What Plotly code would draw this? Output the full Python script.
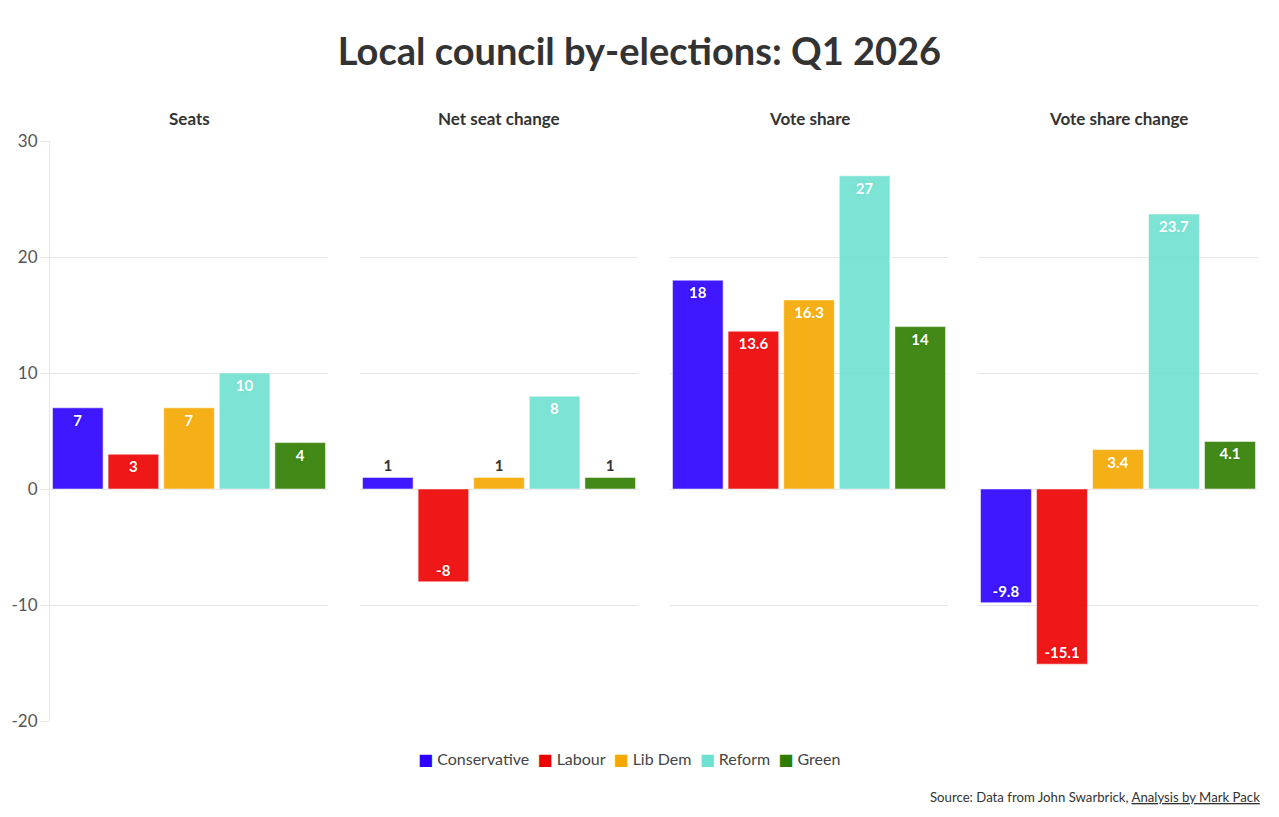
import plotly.graph_objects as go

parties = ["Conservative", "Labour", "Lib Dem", "Reform", "Green"]
colors = ["#2b00ff", "#ee0000", "#f5a800", "#70e0d0", "#2f7d00"]
panel_titles = ["Seats", "Net seat change", "Vote share", "Vote share change"]
seats = [7, 3, 7, 10, 4]
net_seat_change = [1, -8, 1, 8, 1]
vote_share = [18, 13.6, 16.3, 27, 14]
vote_share_change = [-9.8, -15.1, 3.4, 23.7, 4.1]
panels = [seats, net_seat_change, vote_share, vote_share_change]
y_ticks = [-20, -10, 0, 10, 20, 30]
y_tick_labels = ["-20", "-10", "0", "10", "20", "30"]

FONT = "'Source Sans Pro', Lato, sans-serif"
W, H = 1279, 817
x_px = [(50, 328), (360, 638), (670, 948), (978, 1258)]
y_dom = [1 - 721 / H, 1 - 141 / H]

fig = go.Figure()
layout = {}
for p, vals in enumerate(panels):
    ax = "" if p == 0 else str(p + 1)
    for i, party in enumerate(parties):
        fig.add_trace(go.Bar(
            x=[party], y=[vals[i]], name=party,
            xaxis="x" + ax, yaxis="y" + ax,
            legendgroup=party, showlegend=False,
            marker=dict(color=colors[i], opacity=0.9,
                        line=dict(color="rgba(255,255,255,0.5)", width=1)),
            text=[vals[i]], texttemplate="%{text}",
            textposition="auto", constraintext="none",
            insidetextanchor="end",
            insidetextfont=dict(color="white", size=15, family=FONT, weight="bold",
                                shadow="0px 0px 3px " + colors[i]),
            outsidetextfont=dict(color="#333333", size=15, family=FONT, weight="bold"),
            hoverinfo="x+y",
        ))
    x0, x1 = x_px[p]
    layout["xaxis" + ax] = dict(domain=[x0 / W, x1 / W], anchor="y" + ax,
                                showticklabels=False, showgrid=False,
                                zeroline=False, showline=False, ticks="")
    layout["yaxis" + ax] = dict(domain=y_dom, anchor="x" + ax, range=[-20, 30],
                                tickvals=y_ticks, ticktext=y_tick_labels,
                                showticklabels=(p == 0), automargin=False,
                                gridcolor="#e6e6e6", gridwidth=1,
                                zeroline=True, zerolinecolor="#e6e6e6", zerolinewidth=1,
                                showline=(p == 0), linecolor="#e6e6e6", linewidth=1,
                                ticks="outside" if p == 0 else "", ticklen=8,
                                tickcolor="#e6e6e6",
                                tickfont=dict(size=17, color="#555555", family=FONT))
    if p > 0:
        layout["yaxis" + ax]["matches"] = "y"

fig.update_layout(**layout)

annotations = []
for p, t in enumerate(panel_titles):
    x0, x1 = x_px[p]
    annotations.append(dict(text="<b>" + t + "</b>", x=(x0 + x1) / 2 / W, y=1 - 118 / H,
                            xref="paper", yref="paper", showarrow=False,
                            xanchor="center", yanchor="middle",
                            font=dict(size=17, color="#333333", family=FONT)))

# legend row built from the party names and colours
legend_text = "  ".join(
    '<span style="color:%s;font-family:DejaVu Sans">&#9632;</span> %s' % (c, n)
    for n, c in zip(parties, colors))
annotations.append(dict(text=legend_text, x=629 / W, y=1 - 759 / H,
                        xref="paper", yref="paper", showarrow=False,
                        xanchor="center", yanchor="middle",
                        font=dict(size=16, color="#444444", family=FONT)))

annotations.append(dict(text="Source: Data from John Swarbrick, <u>Analysis by Mark Pack</u>",
                        x=1262 / W, y=1 - 797 / H, xref="paper", yref="paper",
                        showarrow=False, xanchor="right", yanchor="middle",
                        font=dict(size=13.2, color="#333333", family=FONT)))

fig.update_layout(
    width=W, height=H,
    margin=dict(l=0, r=0, t=0, b=0, autoexpand=False),
    paper_bgcolor="white", plot_bgcolor="white",
    font=dict(family=FONT, color="#333333"),
    title=dict(text="<b>Local council by-elections: Q1 2026</b>",
               x=0.5, xanchor="center", y=1 - 52 / H, yanchor="middle",
               font=dict(size=38, color="#333333", family=FONT)),
    barmode="group", bargap=0.09,
    showlegend=False,
    annotations=annotations,
)

fig.write_html("out.html")
